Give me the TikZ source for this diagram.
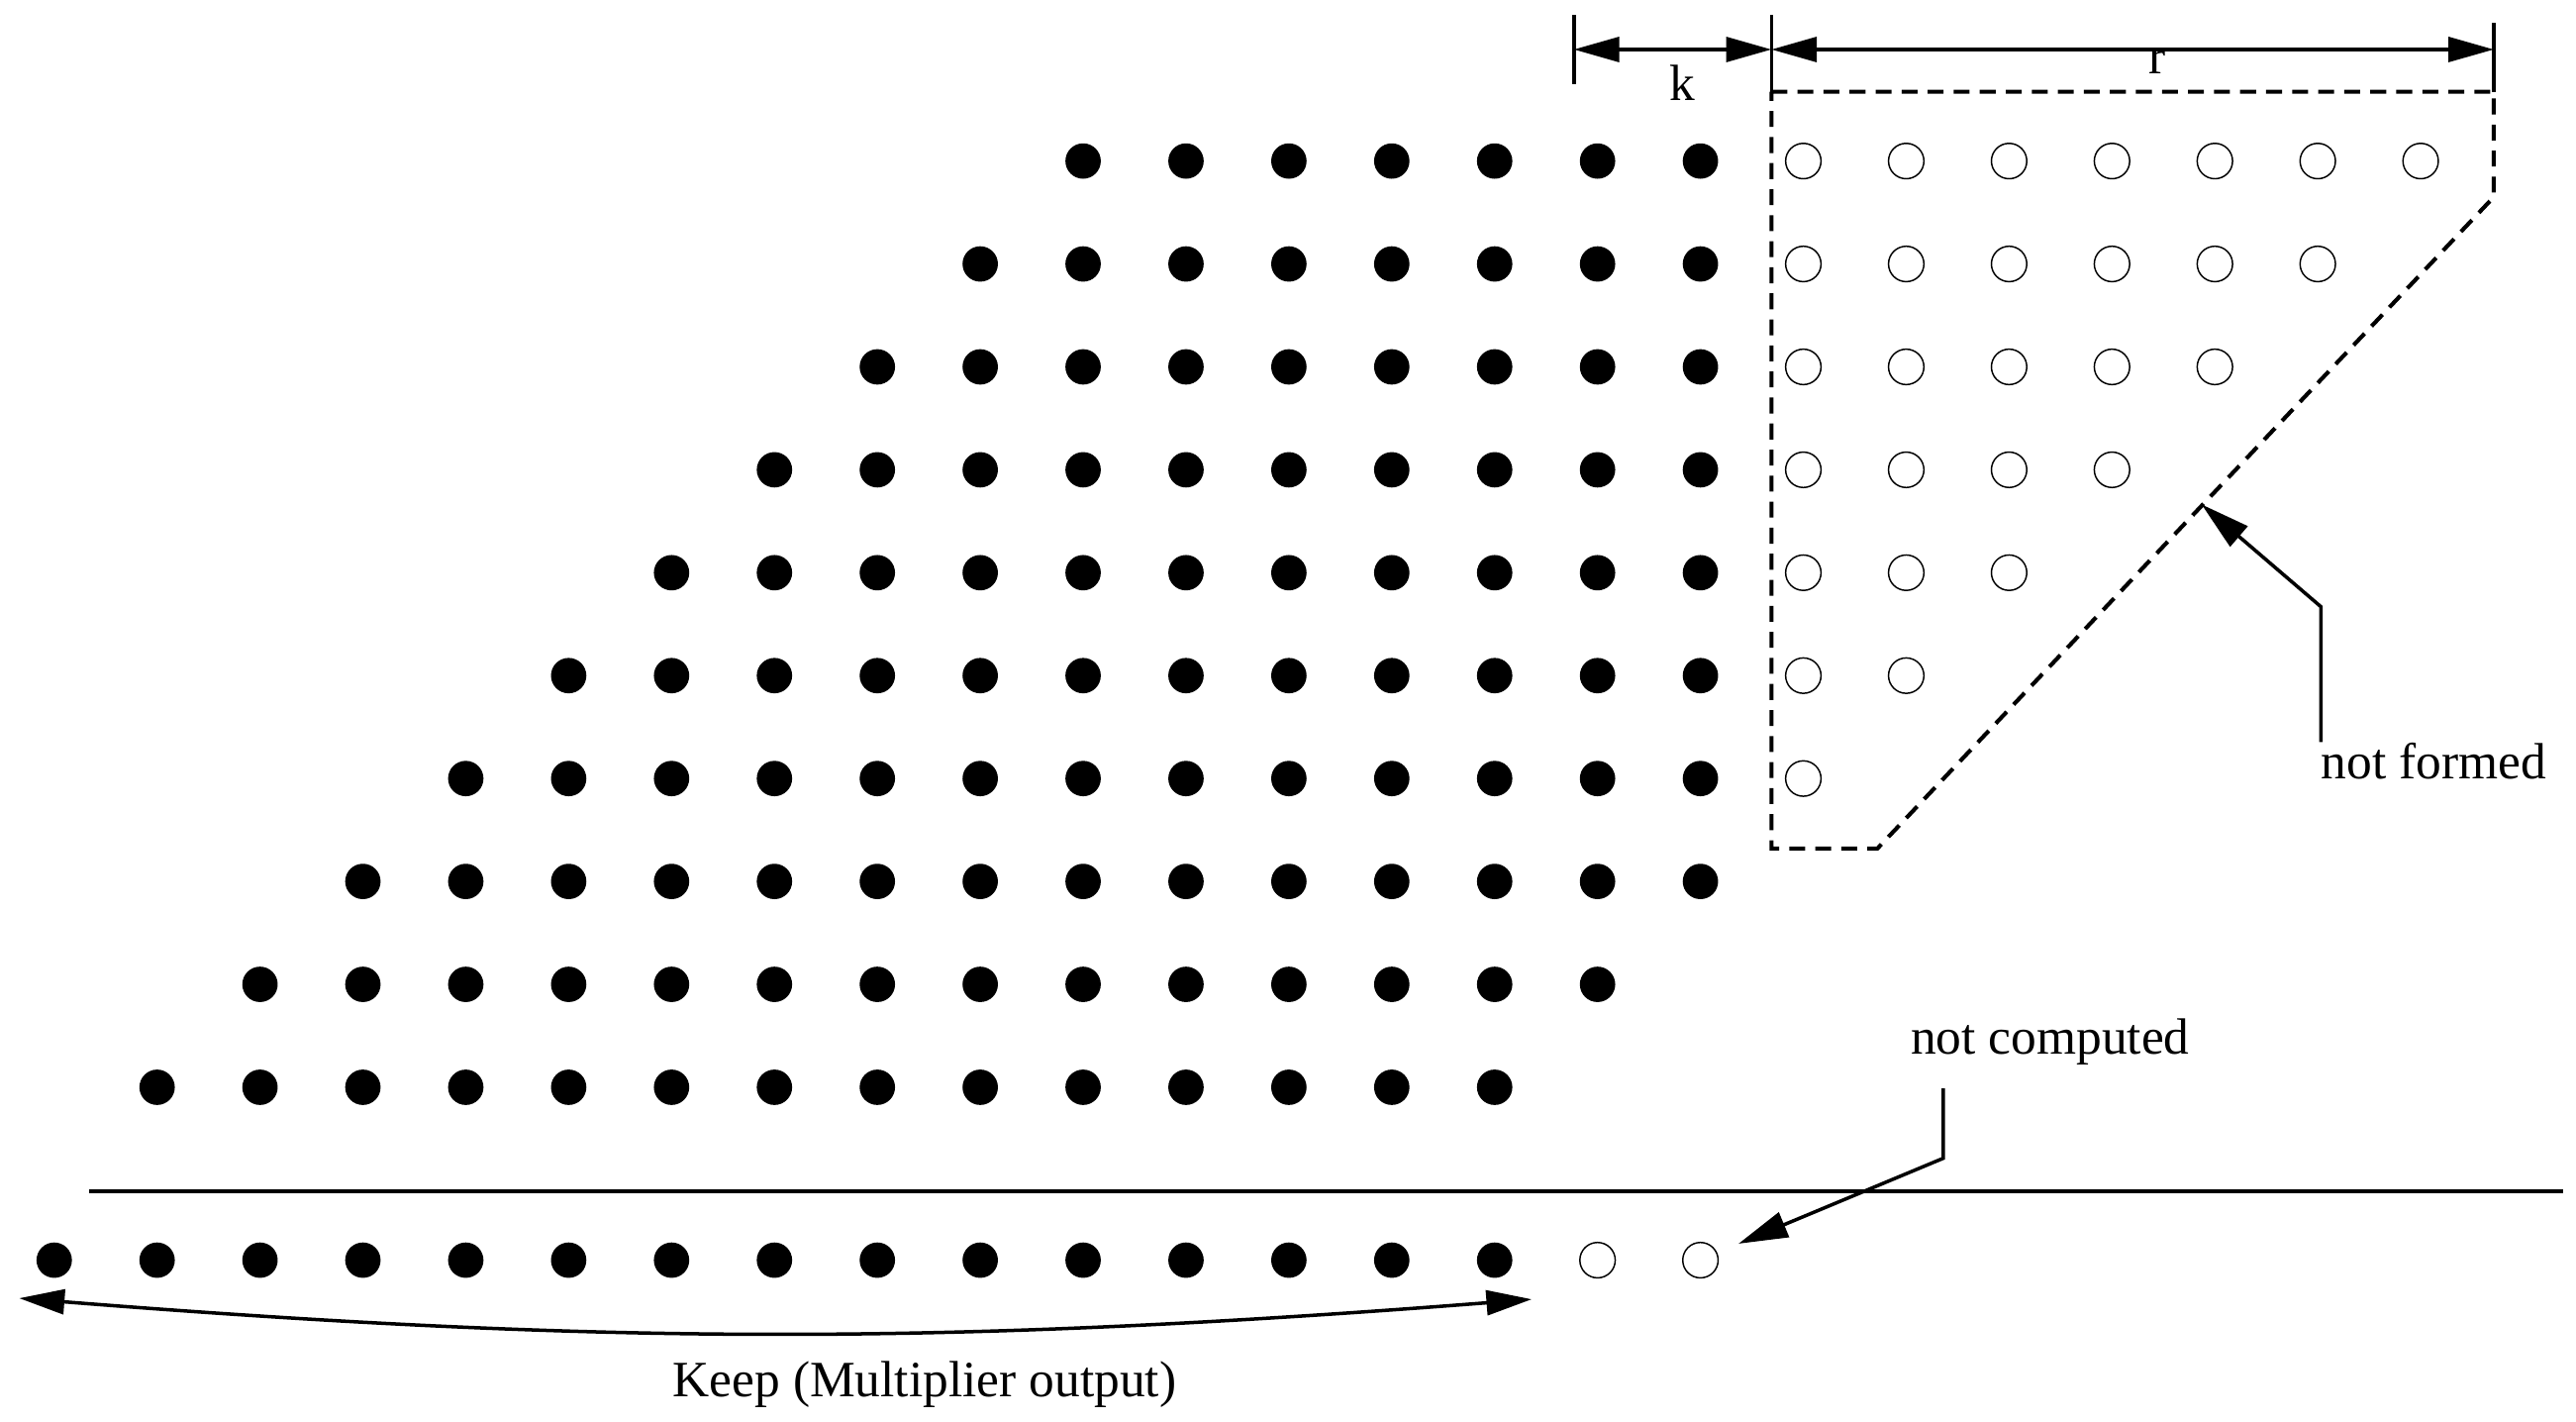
\documentclass[tikz,border=0pt]{standalone}
\usepackage{fontspec}
\setmainfont{Liberation Serif}
\usetikzlibrary{arrows.meta,positioning}
\tikzset{
dotfull/.style={
  circle,
  inner sep=0pt,
  minimum size=4.3mm,
  fill=black,
  }
}
\tikzset{
dotopen/.style={
  circle,
  inner sep=0pt,
  minimum size=4.3mm,
  draw=black,
  line width=0.5pt,
  }
}
\tikzset{
myline/.style={
  line width=1.2pt,
  -{Triangle[length=6mm,width=3.2mm]}
  }
}
\tikzset{
bothline/.style={
  line width=1.2pt,
  {Triangle[length=5.5mm,width=3mm]}-{Triangle[length=5.5mm,width=3mm]}
  }
}
\tikzset{
mydash/.style={
  line width=1.4pt,
  dash pattern=on 5.5pt off 3.5pt
  }
}
\tikzset{
mylabel/.style={
  inner sep=0pt,
  font=\fontsize{17.6}{21}\selectfont
  }
}

\begin{document}
\begin{tikzpicture}[x=1.25cm,y=1.25cm]
    \useasboundingbox (-0.527,-12.251) rectangle (24.51,1.565);
    % partial products
    \foreach \row in {0,...,9}{
      \pgfmathtruncatemacro{\first}{10-\row}
      \pgfmathtruncatemacro{\last}{23-\row}
      \foreach \col in {\first,...,\last}{
        \ifnum\col<17 \def\sty{dotfull}\else\def\sty{dotopen}\fi
        \node[\sty] (pp-\row-\col) at (\col,-\row) {};
      }
    }
    % result row
    \foreach \col in {0,...,16}{
      \ifnum\col<15 \def\sty{dotfull}\else\def\sty{dotopen}\fi
      \node[\sty] (res-\col) at (\col,-10.68) {};
    }
    \coordinate (sepL) at (0.337,-10.01);
    \coordinate (sepR) at (24.38,-10.01);
    \draw[line width=1.2pt] (sepL) -- (sepR);
    % k and r
    \coordinate (kl) at (14.77,1.084);
    \coordinate (km) at (16.69,1.084);
    \coordinate (kr) at (23.71,1.084);
    \draw[line width=1.2pt] (14.77,1.42) -- (14.77,0.747);
    \draw[line width=1.2pt] (16.69,1.42) -- (16.69,0.673);
    \draw[line width=1.2pt] (23.71,1.34) -- (23.71,0.673);
    \draw[bothline] (kl) -- (km);
    \draw[bothline] (km) -- (kr);
    \node[mylabel] (klab) at (15.82,0.764) {k};
    \node[mylabel] (rlab) at (20.44,0.963) {r};
    % region that is not formed
    \draw[mydash] (16.69,0.673) -- (23.71,0.673) -- (23.71,-0.35) -- (17.72,-6.68) -- (16.69,-6.68) -- cycle;
    \node[mylabel, anchor=base west] (notf) at (22.03,-6.0) {not formed};
    \coordinate (nfbend) at (22.03,-4.33);
    \coordinate (nftip) at (20.87,-3.336);
    \draw[myline] (notf.north west) -- (nfbend) -- (nftip);
    \node[mylabel, anchor=base west] (notc) at (18.04,-8.68) {not computed};
    \coordinate (ncbend) at (18.36,-9.69);
    \coordinate (nctip) at (16.37,-10.52);
    \draw[myline] (notc.south west) ++(0.32,-0.22) -- (ncbend) -- (nctip);
    % kept bits
    \coordinate (keepL) at (-0.34,-11.05);
    \coordinate (keepR) at (14.36,-11.06);
    \draw[bothline] (keepL) to[bend right=4.5] (keepR);
    \node[mylabel] (keep) at (8.46,-11.89) {Keep (Multiplier output)};
\end{tikzpicture}
\end{document}
